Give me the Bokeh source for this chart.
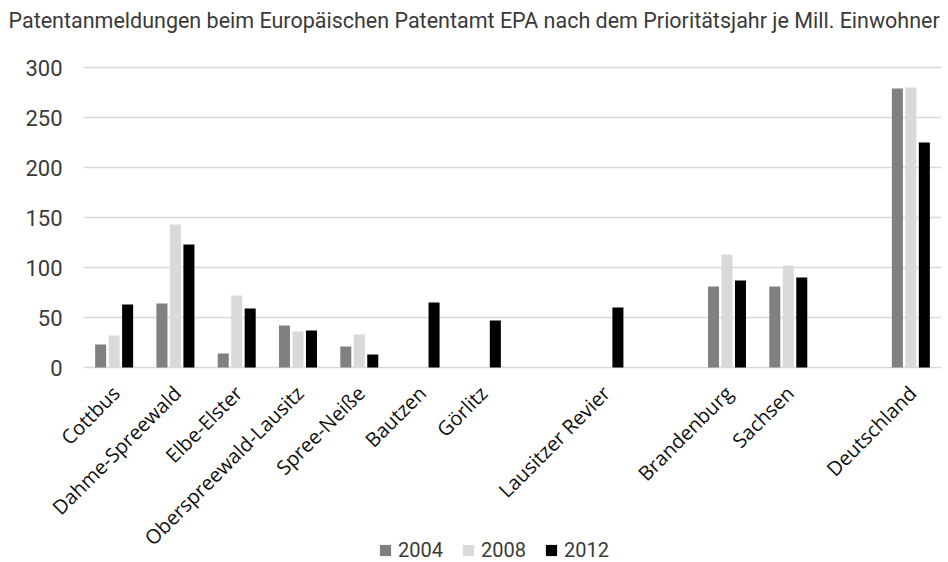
import math
from bokeh.plotting import figure
from bokeh.models import Legend, LegendItem, Range1d, ColumnDataSource
from bokeh.transform import dodge
from bokeh.core.properties import value
from bokeh.embed import file_html
from bokeh.resources import INLINE

NaN = float("nan")

# slots along the axis; blank strings are empty gaps in the reference
slots = ["Cottbus", "Dahme-Spreewald", "Elbe-Elster", "Oberspreewald-Lausitz",
         "Spree-Neiße", "Bautzen", "Görlitz", " ", "Lausitzer Revier", "  ",
         "Brandenburg", "Sachsen", "   ", "Deutschland"]
categories = ["Cottbus", "Dahme-Spreewald", "Elbe-Elster", "Oberspreewald-Lausitz",
              "Spree-Neiße", "Bautzen", "Görlitz", "Lausitzer Revier",
              "Brandenburg", "Sachsen", "Deutschland"]
years = ["2004", "2008", "2012"]
v2004 = [23, 64, 14, 42, 21, NaN, NaN, NaN, 81, 81, 279]
v2008 = [32, 143, 72, 36, 33, NaN, NaN, NaN, 113, 102, 280]
v2012 = [63, 123, 59, 37, 13, 65, 47, 60, 87, 90, 225]
colors = ["#808080", "#d9d9d9", "#000000"]
y_ticks = [0, 50, 100, 150, 200, 250, 300]
title = "Patentanmeldungen beim Europäischen Patentamt EPA nach dem Prioritätsjahr je Mill. Einwohner"

FONT = "Roboto"
TEXT_GREY = "#3a3a3a"

# category position = its slot index on the x scale
xpos = [slots.index(c) for c in categories]
source = ColumnDataSource(dict(cat=categories, x=xpos, base=[0] * len(categories),
                               y2004=v2004, y2008=v2008, y2012=v2012))

# layout: plot area (first slot's left edge) begins 83px in, slot width ~61.3px,
# value 0 sits 367px below the top, 1px per unit
W, H = 944, 562
slot_px = 858 / len(slots)
left_edge = -0.5
x_start = left_edge - 83 / slot_px
x_end = x_start + W / slot_px
y_end = 367
y_start = y_end - H

p = figure(width=W, height=H, output_backend="svg", toolbar_location=None,
           x_range=Range1d(x_start, x_end), y_range=Range1d(y_start, y_end),
           x_axis_location=None, y_axis_location=None,
           min_border_left=0, min_border_right=0, min_border_top=0, min_border_bottom=0)

p.outline_line_color = None
p.xgrid.grid_line_color = None
p.ygrid.grid_line_color = None

# title, pinned to the top-left corner
title_src = ColumnDataSource(dict(x=[x_start], y=[y_end], t=[title]))
p.text(x="x", y="y", text="t", source=title_src, x_offset=8, y_offset=20,
       text_align="left", text_baseline="middle",
       text_font=value(FONT), text_font_size="21.5px", text_color=TEXT_GREY)

# horizontal grid lines at the y ticks, spanning the slot area
grid_src = ColumnDataSource(dict(y=y_ticks, x0=[left_edge] * len(y_ticks),
                                 x1=[len(slots) + left_edge] * len(y_ticks),
                                 label=[str(t) for t in y_ticks]))
p.segment(x0="x0", x1="x1", y0="y", y1="y", source=grid_src,
          line_color="#d9d9d9", line_width=1.5)
# y tick labels
p.text(x="x0", y="y", text="label", source=grid_src, x_offset=-21,
       text_align="right", text_baseline="middle",
       text_font=value(FONT), text_font_size="22px", text_color=TEXT_GREY)

renderers = []
offsets = [-0.22, 0.0, 0.22]
for yr, col, off in zip(years, colors, offsets):
    r = p.vbar(x=dodge("x", off), top="y" + yr, width=0.18,
               source=source, fill_color=col, line_color=None)
    renderers.append(r)

# category labels, rotated, below the zero line
p.text(x=dodge("x", 0.03), y="base", text="cat", source=source,
       angle=math.pi / 4, text_align="right", text_baseline="middle",
       y_offset=22, text_font=value("Open Sans"), text_font_size="20px",
       text_color="#111111")

legend = Legend(items=[LegendItem(label=yr, renderers=[r]) for yr, r in zip(years, renderers)],
                orientation="horizontal", location=(378, 0),
                border_line_color=None, background_fill_alpha=0,
                padding=0, margin=0, spacing=18, label_standoff=6,
                glyph_width=14, glyph_height=14,
                label_text_font=FONT, label_text_font_size="20px",
                label_text_color=TEXT_GREY)
p.add_layout(legend, "center")

open("out.html", "w").write(file_html(p, INLINE))
